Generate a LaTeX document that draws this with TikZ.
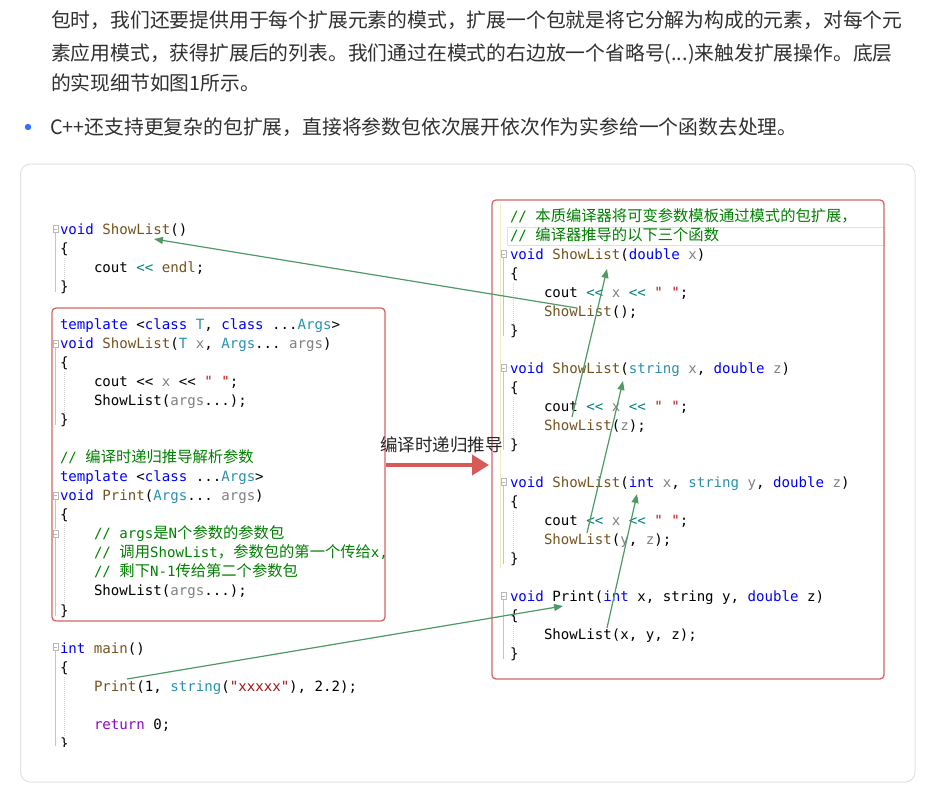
\documentclass[tikz,border=0pt]{standalone}
\usepackage{fontspec}
\setmonofont{DejaVu Sans Mono}
\newfontfamily\cjk{Noto Sans CJK SC}
\usetikzlibrary{arrows.meta}
\definecolor{ckwc}{HTML}{0000FF}
\definecolor{cfnc}{HTML}{74531F}
\definecolor{ctyc}{HTML}{2B91AF}
\definecolor{cpac}{HTML}{808080}
\definecolor{cstrc}{HTML}{C41A1A}
\definecolor{cstrd}{HTML}{A31515}
\definecolor{ccmc}{HTML}{008000}
\definecolor{cpuc}{HTML}{8F08C4}
\definecolor{copc}{HTML}{008080}
\definecolor{toptxt}{HTML}{303030}
\definecolor{redbox}{HTML}{D86464}
\definecolor{redarrow}{HTML}{D65A58}
\definecolor{greenarrow}{HTML}{4E9A64}
\definecolor{cardline}{HTML}{E2E2E2}
\definecolor{bulletblue}{HTML}{3370FF}
\definecolor{guidec}{HTML}{B8B8B8}
\definecolor{yellowline}{HTML}{F2ECC0}
\newcommand\ckw[1]{\textcolor{ckwc}{#1}}
\newcommand\cfn[1]{\textcolor{cfnc}{#1}}
\newcommand\cty[1]{\textcolor{ctyc}{#1}}
\newcommand\cpa[1]{\textcolor{cpac}{#1}}
\newcommand\cstr[1]{\textcolor{cstrc}{#1}}
\newcommand\cstrd[1]{\textcolor{cstrd}{#1}}
\newcommand\ccm[1]{\textcolor{ccmc}{#1}}
\newcommand\cpu[1]{\textcolor{cpuc}{#1}}
\newcommand\cop[1]{\textcolor{copc}{#1}}
\newcommand\zh[1]{{\cjk\fontsize{15.3}{19}\selectfont #1}}
\newcommand\foldat[2]{\draw[foldst] (#1-2.5,#2-3.5) rectangle (#1+2.5,#2+3.5); \draw[foldst] (#1-1.5,#2) -- (#1+1.5,#2);}
\tikzset{
  codeline/.style={anchor=base west, inner sep=0pt, outer sep=0pt, text=black,
    font=\ttfamily\frenchspacing\fontsize{14.1}{19}\selectfont},
  toptext/.style={anchor=base west, inner sep=0pt, outer sep=0pt, text=toptxt,
    font=\cjk\fontsize{19.8}{24}\selectfont},
  foldst/.style={draw=guidec, line width=0.6pt},
  guide/.style={draw=guidec!80, line width=0.7pt},
  dotguide/.style={draw=guidec!60, line width=0.5pt, dash pattern=on 1pt off 1pt},
  redframe/.style={draw=redbox, line width=1.3pt, rounded corners=4pt},
  greenarr/.style={draw=greenarrow, line width=1.2pt, -{Triangle[length=9pt,width=7pt]}},
  bigarr/.style={draw=redarrow, line width=4pt, -{Triangle[length=17pt,width=20pt]}}
}
\begin{document}
\begin{tikzpicture}[x=1pt,y=-1pt]
\useasboundingbox (0,0) rectangle (941,789);
\fill[white] (0,0) rectangle (941,789);

% top paragraph
\node[toptext] (t1) at (51,27.5) {包时，我们还要提供用于每个扩展元素的模式，扩展一个包就是将它分解为构成的元素，对每个元};
\node[toptext] (t2) at (51,60.5) {素应用模式，获得扩展后的列表。我们通过在模式的右边放一个省略号(...)来触发扩展操作。底层};
\node[toptext] (t3) at (51,90.5) {的实现细节如图1所示。};
\fill[bulletblue] (28,127) circle (3.2);
\node[toptext] (t4) at (50,134.5) {C++还支持更复杂的包扩展，直接将参数包依次展开依次作为实参给一个函数去处理。};

% card
\draw[cardline, line width=1pt, rounded corners=10pt] (20.5,164) rectangle (915,782);

% editor decorations
\draw[yellowline, line width=1pt] (500.5,203) -- (500.5,568);
\draw[draw=black!12, line width=0.8pt] (507,227) rectangle (884,245);

% fold markers and guides (left)
\foldat{55.5}{229}
\foldat{55.5}{343.3}
\foldat{55.5}{495.7}
\foldat{55.5}{533.8}
\foldat{55.5}{647.1}
\draw[guide] (55.7,233) -- (55.7,292);
\draw[guide] (55.7,347) -- (55.7,425);
\draw[guide] (55.7,500) -- (55.7,529);
\draw[guide] (55.7,538) -- (55.7,616);
\draw[guide] (55.7,651) -- (55.7,746);
\draw[dotguide] (64,258) -- (64,281);
\draw[dotguide] (64,372) -- (64,414);
\draw[dotguide] (64,524) -- (64,605);
\draw[dotguide] (64,677) -- (64,737);
% right
\foldat{503.5}{254}
\foldat{503.5}{368}
\foldat{503.5}{482}
\foldat{503.5}{596}
\draw[guide] (503.7,258) -- (503.7,336);
\draw[guide] (503.7,372) -- (503.7,450);
\draw[guide] (503.7,486) -- (503.7,564);
\draw[guide] (503.7,600) -- (503.7,659);
\draw[dotguide] (513,283) -- (513,325);
\draw[dotguide] (513,397) -- (513,439);
\draw[dotguide] (513,511) -- (513,553);
\draw[dotguide] (513,625) -- (513,648);

% red frames
\draw[redframe] (52,308) rectangle (385,621);
\draw[redframe] (492,200) rectangle (884,679);

% left code
\begin{scope}
\clip (0,0) rectangle (941,746);
\node[codeline] (l0) at (60,234) {\ckw{void} \cfn{ShowList}()};
\node[codeline] (l1) at (60,253.05) {\{};
\node[codeline] (l2) at (94,272.1) {cout \cop{<<} \cfn{endl};};
\node[codeline] (l3) at (60,291.15) {\}};
\node[codeline] (l5) at (60,329.25) {\ckw{template} <\ckw{class} \cty{T}, \ckw{class} ...\cty{Args}>};
\node[codeline] (l6) at (60,348.3) {\ckw{void} \cfn{ShowList}(\cty{T} \cpa{x}, \cty{Args}... \cpa{args})};
\node[codeline] (l7) at (60,367.35) {\{};
\node[codeline] (l8) at (94,386.4) {cout << \cpa{x} << \cstr{" "};};
\node[codeline] (l9) at (94,405.45) {ShowList(\cpa{args}...);};
\node[codeline] (l10) at (60,424.5) {\}};
\node[codeline] (l12) at (60,462.6) {\ccm{// \zh{编译时递归推导解析参数}}};
\node[codeline] (l13) at (60,481.65) {\ckw{template} <\ckw{class} ...\cty{Args}>};
\node[codeline] (l14) at (60,500.7) {\ckw{void} \cfn{Print}(\cty{Args}... \cpa{args})};
\node[codeline] (l15) at (60,519.75) {\{};
\node[codeline] (l16) at (94,538.8) {\ccm{// args\zh{是}N\zh{个参数的参数包}}};
\node[codeline] (l17) at (94,557.85) {\ccm{// \zh{调用}ShowList\zh{，参数包的第一个传给}x,}};
\node[codeline] (l18) at (94,576.9) {\ccm{// \zh{剩下}N-1\zh{传给第二个参数包}}};
\node[codeline] (l19) at (94,595.95) {ShowList(\cpa{args}...);};
\node[codeline] (l20) at (60,615) {\}};
\node[codeline] (l22) at (60,653.1) {\ckw{int} \cfn{main}()};
\node[codeline] (l23) at (60,672.15) {\{};
\node[codeline] (l24) at (94,691.2) {\cfn{Print}(1, \cty{string}(\cstrd{"xxxxx"}), 2.2);};
\node[codeline] (l26) at (94,729.3) {\cpu{return} 0;};
\node[codeline] (l27) at (60,748.35) {\}};
\end{scope}

% right code
\node[codeline] (r0) at (510,221) {\ccm{// \zh{本质编译器将可变参数模板通过模式的包扩展，}}};
\node[codeline] (r1) at (510,240) {\ccm{// \zh{编译器推导的以下三个函数}}};
\node[codeline] (r2) at (510,259) {\ckw{void} \cfn{ShowList}(\ckw{double} \cpa{x})};
\node[codeline] (r3) at (510,278) {\{};
\node[codeline] (r4) at (544,297) {cout \cop{<<} \cpa{x} \cop{<<} \cstr{" "};};
\node[codeline] (r5) at (544,316) {\cfn{ShowList}();};
\node[codeline] (r6) at (510,335) {\}};
\node[codeline] (r8) at (510,373) {\ckw{void} \cfn{ShowList}(\cty{string} \cpa{x}, \ckw{double} \cpa{z})};
\node[codeline] (r9) at (510,392) {\{};
\node[codeline] (r10) at (544,411) {cout \cop{<<} \cpa{x} \cop{<<} \cstr{" "};};
\node[codeline] (r11) at (544,430) {\cfn{ShowList}(\cpa{z});};
\node[codeline] (r12) at (510,449) {\}};
\node[codeline] (r14) at (510,487) {\ckw{void} \cfn{ShowList}(\ckw{int} \cpa{x}, \cty{string} \cpa{y}, \ckw{double} \cpa{z})};
\node[codeline] (r15) at (510,506) {\{};
\node[codeline] (r16) at (544,525) {cout \cop{<<} \cpa{x} \cop{<<} \cstr{" "};};
\node[codeline] (r17) at (544,544) {\cfn{ShowList}(\cpa{y}, \cpa{z});};
\node[codeline] (r18) at (510,563) {\}};
\node[codeline] (r20) at (510,601) {\ckw{void} Print(\ckw{int} x, string y, \ckw{double} z)};
\node[codeline] (r21) at (510,620) {\{};
\node[codeline] (r22) at (544,639) {ShowList(x, y, z);};
\node[codeline] (r23) at (510,658) {\}};

% big arrow and label
\coordinate (ba1) at (386,465);
\coordinate (ba2) at (489,465);
\draw[bigarr] (ba1) -- (ba2);
\node[inner sep=0pt, text=black!85, font=\cjk\fontsize{17.5}{20}\selectfont] (lbl) at (441.5,445) {编译时递归推导};

% green arrows
\coordinate (g1s) at (577,308);
\coordinate (g1e) at (154,239);
\coordinate (g2s) at (572,417);
\coordinate (g2e) at (607,269);
\coordinate (g3s) at (587,533);
\coordinate (g3e) at (623,381);
\coordinate (g4s) at (607,628);
\coordinate (g4e) at (637,494);
\coordinate (g5s) at (127,679);
\coordinate (g5e) at (563,606);
\draw[greenarr] (g1s) -- (g1e);
\draw[greenarr] (g2s) -- (g2e);
\draw[greenarr] (g3s) -- (g3e);
\draw[greenarr] (g4s) -- (g4e);
\draw[greenarr] (g5s) -- (g5e);
\end{tikzpicture}
\end{document}
